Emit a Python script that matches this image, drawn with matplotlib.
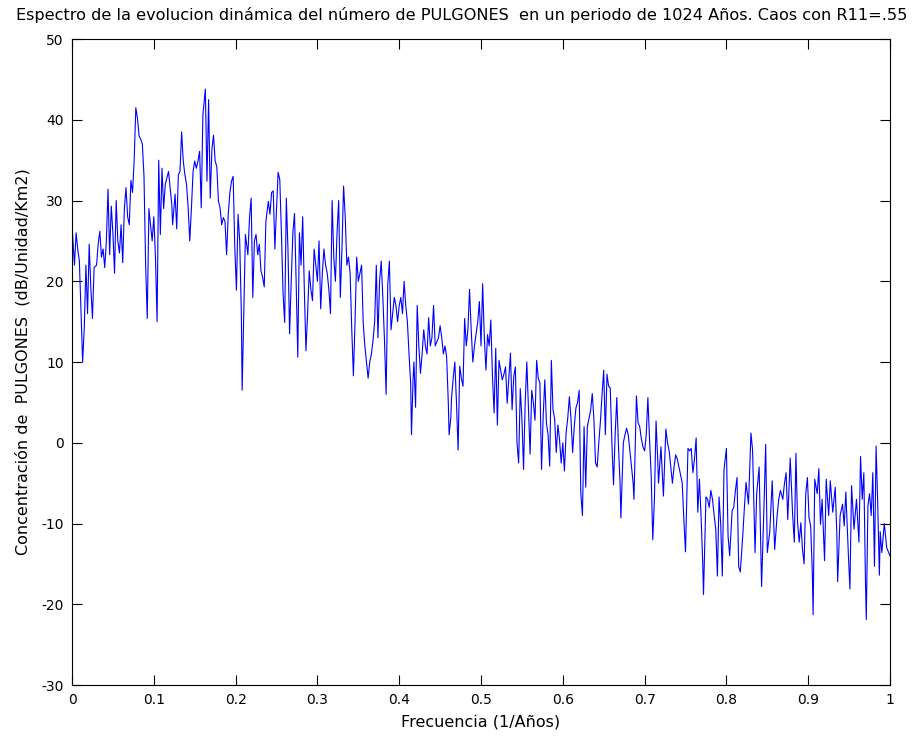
import matplotlib
matplotlib.use('Agg')
import matplotlib.pyplot as plt

freq = [0.000, 0.003, 0.005, 0.007, 0.009, 0.011, 0.013, 0.015, 0.017, 0.019,
        0.021, 0.023, 0.025, 0.027, 0.030, 0.032, 0.034, 0.036, 0.038, 0.040,
        0.042, 0.044, 0.046, 0.048, 0.050, 0.052, 0.054, 0.056, 0.058, 0.060,
        0.062, 0.064, 0.066, 0.068, 0.070, 0.072, 0.074, 0.076, 0.078, 0.080,
        0.082, 0.084, 0.086, 0.088, 0.090, 0.092, 0.094, 0.096, 0.098, 0.100,
        0.102, 0.104, 0.106, 0.108, 0.110, 0.112, 0.114, 0.116, 0.118, 0.120,
        0.122, 0.123, 0.126, 0.128, 0.130, 0.132, 0.134, 0.136, 0.138, 0.140,
        0.142, 0.144, 0.146, 0.148, 0.150, 0.152, 0.154, 0.156, 0.158, 0.160,
        0.163, 0.165, 0.167, 0.169, 0.171, 0.173, 0.175, 0.177, 0.179, 0.181,
        0.183, 0.185, 0.187, 0.189, 0.191, 0.193, 0.195, 0.197, 0.199, 0.201,
        0.203, 0.205, 0.207, 0.208, 0.210, 0.212, 0.215, 0.217, 0.219, 0.221,
        0.223, 0.225, 0.227, 0.229, 0.231, 0.233, 0.235, 0.237, 0.240, 0.242,
        0.244, 0.246, 0.248, 0.250, 0.252, 0.254, 0.256, 0.258, 0.260, 0.262,
        0.264, 0.266, 0.268, 0.270, 0.272, 0.274, 0.276, 0.278, 0.280, 0.282,
        0.284, 0.286, 0.288, 0.290, 0.292, 0.294, 0.296, 0.298, 0.300, 0.302,
        0.304, 0.306, 0.308, 0.310, 0.312, 0.314, 0.316, 0.318, 0.320, 0.322,
        0.324, 0.326, 0.328, 0.330, 0.332, 0.334, 0.336, 0.338, 0.340, 0.342,
        0.344, 0.346, 0.348, 0.350, 0.352, 0.354, 0.356, 0.358, 0.360, 0.362,
        0.364, 0.366, 0.368, 0.370, 0.372, 0.374, 0.376, 0.378, 0.380, 0.382,
        0.384, 0.386, 0.388, 0.390, 0.392, 0.394, 0.396, 0.398, 0.400, 0.402,
        0.404, 0.406, 0.408, 0.410, 0.412, 0.414, 0.415, 0.417, 0.418, 0.420,
        0.422, 0.424, 0.426, 0.428, 0.430, 0.432, 0.434, 0.436, 0.438, 0.440,
        0.442, 0.444, 0.446, 0.448, 0.450, 0.452, 0.454, 0.456, 0.458, 0.460,
        0.461, 0.463, 0.464, 0.466, 0.468, 0.470, 0.472, 0.474, 0.476, 0.478,
        0.480, 0.482, 0.484, 0.486, 0.488, 0.490, 0.492, 0.494, 0.496, 0.498,
        0.500, 0.502, 0.504, 0.506, 0.508, 0.510, 0.512, 0.514, 0.516, 0.518,
        0.520, 0.522, 0.524, 0.526, 0.528, 0.530, 0.532, 0.534, 0.536, 0.538,
        0.540, 0.542, 0.544, 0.546, 0.548, 0.550, 0.552, 0.554, 0.556, 0.558,
        0.560, 0.562, 0.564, 0.566, 0.568, 0.570, 0.572, 0.574, 0.576, 0.578,
        0.580, 0.582, 0.584, 0.586, 0.588, 0.590, 0.592, 0.594, 0.596, 0.598,
        0.600, 0.602, 0.604, 0.606, 0.608, 0.610, 0.612, 0.614, 0.616, 0.618,
        0.620, 0.622, 0.624, 0.626, 0.628, 0.630, 0.632, 0.634, 0.636, 0.638,
        0.640, 0.642, 0.644, 0.646, 0.648, 0.650, 0.652, 0.654, 0.656, 0.658,
        0.660, 0.662, 0.664, 0.666, 0.668, 0.670, 0.671, 0.673, 0.674, 0.676,
        0.678, 0.680, 0.682, 0.684, 0.686, 0.687, 0.690, 0.692, 0.694, 0.696,
        0.698, 0.700, 0.702, 0.704, 0.706, 0.708, 0.710, 0.712, 0.714, 0.716,
        0.717, 0.720, 0.723, 0.726, 0.728, 0.730, 0.732, 0.734, 0.736, 0.738,
        0.740, 0.742, 0.744, 0.746, 0.748, 0.750, 0.753, 0.755, 0.757, 0.759,
        0.761, 0.763, 0.765, 0.767, 0.769, 0.771, 0.772, 0.775, 0.777, 0.779,
        0.781, 0.783, 0.785, 0.787, 0.789, 0.791, 0.793, 0.795, 0.797, 0.800,
        0.802, 0.804, 0.807, 0.809, 0.811, 0.813, 0.815, 0.817, 0.820, 0.822,
        0.824, 0.827, 0.830, 0.832, 0.835, 0.837, 0.840, 0.843, 0.846, 0.848,
        0.850, 0.853, 0.856, 0.859, 0.862, 0.864, 0.866, 0.869, 0.871, 0.873,
        0.875, 0.878, 0.881, 0.883, 0.885, 0.887, 0.889, 0.891, 0.893, 0.895,
        0.897, 0.899, 0.901, 0.903, 0.905, 0.906, 0.908, 0.911, 0.913, 0.915,
        0.917, 0.920, 0.922, 0.925, 0.927, 0.930, 0.933, 0.935, 0.936, 0.939,
        0.942, 0.944, 0.946, 0.949, 0.951, 0.953, 0.956, 0.959, 0.962, 0.964,
        0.966, 0.968, 0.970, 0.971, 0.973, 0.975, 0.977, 0.979, 0.981, 0.983,
        0.985, 0.987, 0.988, 0.990, 0.993, 0.996, 1.000]

nivel_db = [27, 22, 26, 24, 22.5, 16.4, 10, 14.3, 22, 16,
            24.6, 19.2, 15.4, 21.7, 22, 24.6, 26.2, 23, 24, 21.7,
            25, 31.4, 23.3, 29.3, 26, 21, 30, 25, 23.5, 27,
            22.3, 29, 31.6, 28, 27, 32.5, 31, 35, 41.5, 40.2,
            38, 37.6, 37, 33, 22, 15.4, 29, 27, 25, 28,
            23, 15, 35, 25.8, 34, 29, 32, 32.8, 33.6, 31.6,
            29.5, 27, 30.8, 26.5, 33.2, 33.6, 38.5, 34.9, 33.2, 32,
            29.1, 25, 29.1, 33.6, 34.9, 34, 34.9, 36.1, 29.1, 40.6,
            43.8, 32.4, 42.5, 30.3, 36.3, 38.1, 34.9, 34.2, 29.9, 29.1,
            27, 27.9, 27.4, 23.3, 28.3, 31, 32.4, 33, 24.2, 18.9,
            28.3, 25, 16, 6.5, 16.3, 25.8, 23.3, 27.9, 30.3, 18,
            25, 25.8, 23.3, 24.6, 21.3, 20.5, 19.3, 27.4, 29.9, 28.3,
            31, 31.2, 24, 29, 33.5, 32.6, 26, 18.5, 14.9, 30.3,
            24, 13.5, 20, 26, 28.4, 20, 10.6, 26, 22, 28,
            19, 11.4, 16, 21.3, 19, 17.6, 24, 22, 20, 25,
            16.6, 21, 24, 22, 21, 19, 16, 30, 23, 20,
            26, 30, 18, 24, 31.8, 28, 22, 23, 21, 14,
            8.3, 15, 23, 20, 21, 22, 14.8, 12, 10, 8,
            10, 11, 12.7, 15, 22, 13, 20, 22.5, 18, 12.7,
            6, 19.6, 22.5, 14, 16, 18, 17, 15, 17, 18,
            16, 20, 17, 15, 11, 7.4, 1, 8, 10, 4.4,
            17, 12, 8.6, 11, 14, 12, 11, 15.5, 12, 13,
            17, 12, 12.5, 13, 14.5, 13, 11, 12, 10.6, 5,
            1, 3, 5.6, 8, 10, 5, -0.9, 9.5, 8, 7,
            15.4, 12, 14, 19, 14, 10, 12, 13.5, 15, 17.5,
            12, 19.7, 13.2, 9, 13.4, 12, 15.2, 8.2, 3.7, 11.7,
            2.2, 10.2, 9, 7.8, 8.5, 9.4, 4.9, 8, 11.1, 4.1,
            8.2, 9.4, 0, -2.5, 6.7, 3, -3.3, 5, 10, 4.1,
            -1.4, 6.5, 5, 2.8, 10.2, 8, 7.4, -3.3, 3.3, 7.8,
            2.4, 1, -2.9, 10.2, 4.1, 3, -1.2, 2.2, 0.4, -2.5,
            0, -3.5, 1.2, 3, 5.7, 3, -1.2, 2, 4.3, 5,
            6.5, -6.2, -9, 2, -5.5, 2, 3, 4, 6.1, 3,
            -2.5, -3, 0, 2.7, 6, 9, 1, 8.5, 7, 6.8,
            0, -5.2, 1, 5.6, -0.3, -5, -9.3, -3, 0, 1,
            1.8, 1, -1, -3, -5, -7, 5.8, 2.5, 2, 0.5,
            -0.5, -1, 1, 5.6, 0.5, -4, -12, -7, 2.7, -2,
            -5, -0.5, -6.6, 1.7, 0, -1, -3, -5, -3, -1.5,
            -2, -3, -4, -5, -9.6, -13.5, -0.7, -1, -0.7, -3.7,
            -2, 0.6, -8.6, -4.5, -9, -14.8, -18.8, -6.7, -7, -8,
            -5.9, -7, -9, -10.7, -16.5, -6.7, -10, -16.5, -3.4, -0.7,
            -11.5, -14, -8.4, -8, -5.9, -4.3, -15.3, -16, -11.5, -8,
            -4.9, -7.6, 1.2, -0.9, -13.6, -6.3, -3, -17.8, -7.6, -0.2,
            -13.6, -11, -4.7, -13.2, -9, -7, -5.9, -7, -5, -3.7,
            -9.5, -1.9, -9, -12.3, -1.3, -9.9, -12.3, -9.9, -13.2, -15,
            -6.3, -4.3, -9.3, -10.3, -16, -21.3, -4.5, -6.3, -3.2, -10.1,
            -7, -14.6, -4.5, -9, -4.7, -8.6, -5.5, -11.3, -17.2, -9,
            -7.6, -10.3, -6.1, -13.6, -18.1, -5.3, -10.7, -7, -12.3, -1.7,
            -7, -3.7, -17.2, -21.9, -7.8, -6.3, -9, -3.7, -15.3, -0.4,
            -7.6, -16.4, -11, -13.6, -10, -13, -14]

xticks = [0, 0.1, 0.2, 0.3, 0.4, 0.5, 0.6, 0.7, 0.8, 0.9, 1]
xticklabels = ['0', '0.1', '0.2', '0.3', '0.4', '0.5', '0.6', '0.7', '0.8', '0.9', '1']
yticks = [-30, -20, -10, 0, 10, 20, 30, 40, 50]

plt.rcParams['font.family'] = ['DejaVu Sans']
plt.rcParams['font.size'] = 10
plt.rcParams['axes.unicode_minus'] = False

fig = plt.figure(figsize=(9.22, 7.37), dpi=100)
ax = fig.add_axes([0.0781, 0.0705, 0.8872, 0.8765])
ax.plot(freq, nivel_db, color='#0000ff', linewidth=0.8)
ax.set_xlim(0, 1)
ax.set_ylim(-30, 50)
ax.set_xticks(xticks)
ax.set_xticklabels(xticklabels)
ax.set_yticks(yticks)
ax.tick_params(direction='in', top=True, right=True, length=7, width=0.8, pad=6)
for s in ax.spines.values():
    s.set_linewidth(0.8)

# el titulo es mas ancho que los ejes, va centrado en la figura
fig.text(0.501, 0.980, 'Espectro de la evolucion dinámica del número de PULGONES  en un periodo de 1024 Años. Caos con R11=.55',
         fontsize=11.6, ha='center', va='center')
ax.set_xlabel('Frecuencia (1/Años)', fontsize=11.5, labelpad=5)
ax.set_ylabel('Concentración de  PULGONES  (dB/Unidad/Km2)', fontsize=11.5, labelpad=8)

plt.savefig('out.png', dpi=100)
